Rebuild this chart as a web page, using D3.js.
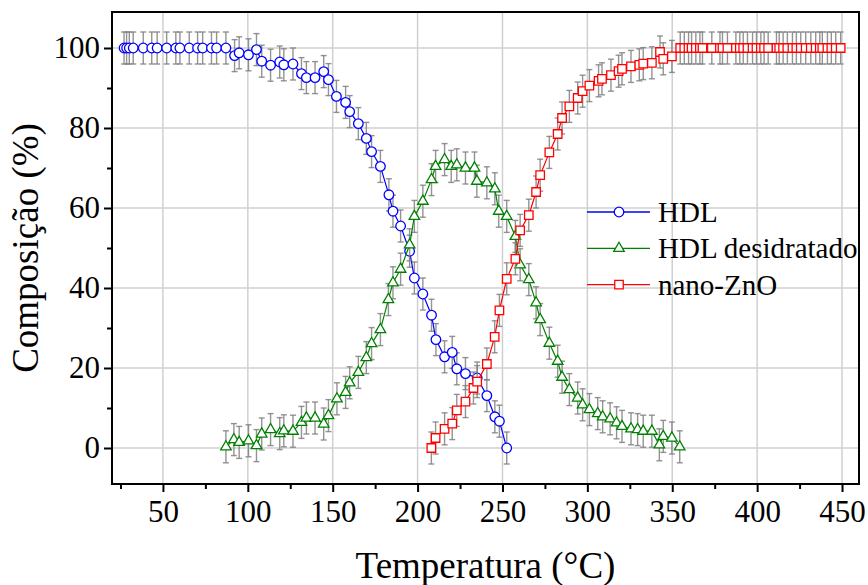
<!DOCTYPE html>
<html>
<head>
<meta charset="utf-8">
<script src="https://cdn.jsdelivr.net/npm/d3@7"></script>
<style>
  body { margin: 0; background: #fff; }
</style>
</head>
<body>
<div id="chart"></div>
<script>
// temperatures (°C) and compositions (%)
const tHDL = [27.1, 28.6, 30.2, 32.5, 38.4, 43.4, 46.6, 52.2, 57.6, 60.0, 65.5, 70.4, 73.4, 78.6, 81.6, 87.1,
  92.2, 94.9, 100.4, 105.1, 108.2, 113.4, 118.8, 121.2, 126.6, 131.6, 134.5, 139.6, 144.7, 147.5, 152.2, 157.6,
  160.0, 165.1, 169.8, 172.9, 178.1, 183.1, 185.5, 190.0, 195.3, 198.1, 203.1, 208.2, 210.8, 215.9, 220.4, 223.1,
  228.2, 235.1, 240.8, 245.5, 248.2, 252.5]
const vHDL = [100, 100, 100, 100, 100, 100, 100, 100, 100, 100, 100, 100, 100, 100, 100, 100,
  98.1, 98.8, 98.3, 99.6, 96.7, 95.7, 96.5, 95.8, 96.0, 93.6, 92.6, 92.6, 94.1, 92.1, 87.9, 86.4,
  84.1, 81.1, 77.4, 74.1, 70.4, 63.3, 59.2, 55.5, 49.2, 42.5, 38.5, 33.2, 27.1, 22.8, 23.9, 19.8,
  18.6, 17.5, 13.1, 7.8, 6.7, 0]

const tDes = [87.1, 91.8, 94.9, 100.4, 105.1, 108.2, 113.4, 118.8, 121.2, 126.6, 131.6, 134.5, 139.6, 144.7, 147.5,
  152.5, 157.6, 160.0, 165.1, 169.8, 172.9, 178.1, 182.8, 185.5, 190.0, 195.3, 198.1, 203.1, 208.2, 210.6,
  215.9, 219.8, 223.1, 228.2, 233.5, 234.9, 240.8, 245.5, 247.8, 252.5, 257.6, 260.4, 265.5, 269.8, 272.2,
  277.6, 282.5, 285.1, 289.4, 294.3, 297.2, 301.2, 306.1, 309.0, 313.4, 317.2, 320.4, 325.7, 329.6, 332.9,
  338.0, 342.4, 344.7, 349.8, 354.4]
const vDes = [0.3, 2.1, 1.4, 1.8, 0.6, 3.5, 4.6, 3.6, 4.3, 4.2, 6.4, 7.5, 7.5, 6.0, 8.1,
  12.3, 13.9, 16.3, 18.9, 22.6, 26.1, 29.6, 37.1, 41.3, 44.7, 50.8, 57.9, 61.7, 67.1, 70.4,
  72.1, 70.4, 70.8, 70.0, 70.0, 66.7, 66.3, 64.8, 59.2, 57.9, 52.9, 45.8, 42.1, 36.3, 32.1,
  26.2, 21.7, 17.7, 14.6, 12.5, 10.8, 9.6, 8.6, 7.8, 7.3, 6.3, 5.4, 4.8, 4.6, 4.2,
  4.2, 0.8, 2.9, 2.5, 0.3]

const tZnO = [208.1, 210.6, 215.9, 220.4, 223.1, 228.2, 232.9, 235.1, 240.8, 245.4, 248.2, 252.5, 257.6, 260.4,
  265.5, 269.8, 272.2, 277.6, 282.5, 285.1, 289.4, 294.3, 297.2, 301.2, 306.6, 308.6, 313.9, 318.4, 320.4,
  325.7, 330.6, 332.9, 338.0, 342.8, 344.7, 349.8, 354.7, 357.1, 359.6, 361.4, 363.9, 366.3, 367.8, 373.3,
  378.1, 379.6, 382.5, 387.5, 389.8, 391.8, 394.3, 397.3, 399.6, 402.2, 404.1, 406.5, 411.4, 413.0, 415.3,
  417.8, 420.8, 423.1, 425.7, 428.6, 431.6, 434.5, 436.9, 438.4, 441.4, 443.7, 446.3, 449.2]
const vZnO = [0, 2.5, 4.8, 6.1, 9.4, 11.6, 15.0, 16.6, 21.0, 27.8, 34.4, 42.3, 47.3, 54.4,
  58.2, 64.0, 68.2, 73.9, 78.5, 82.5, 85.4, 87.5, 89.2, 90.6, 91.8, 92.3, 93.2, 94.2, 94.8,
  95.4, 95.8, 96.1, 96.3, 99.0, 97.3, 97.9, 100, 100, 100, 100, 100, 100, 100, 100,
  100, 100, 100, 100, 100, 100, 100, 100, 100, 100, 100, 100, 100, 100, 100,
  100, 100, 100, 100, 100, 100, 100, 100, 100, 100, 100, 100, 100]

const errBar = 4 // ± %

const xMajor = [50, 100, 150, 200, 250, 300, 350, 400, 450]
const xMinor = [25, 75, 125, 175, 225, 275, 325, 375, 425]
const yMajor = [0, 20, 40, 60, 80, 100]
const yMinor = [10, 30, 50, 70, 90]

const series = [
  { name: 'HDL', t: tHDL, v: vHDL, color: '#0000ff', symbol: 'circle' },
  { name: 'HDL desidratado', t: tDes, v: vDes, color: '#008000', symbol: 'triangle' },
  { name: 'nano-ZnO', t: tZnO, v: vZnO, color: '#ff0000', symbol: 'square' }
]

const serif = '"Liberation Serif", "Times New Roman", Times, serif'

const width = 868
const height = 585
const margin = { top: 12, right: 9, bottom: 101, left: 112 }

const svg = d3.select('#chart')
  .append('svg')
  .attr('width', width)
  .attr('height', height)

const x = d3.scaleLinear()
  .domain([20, 460])
  .range([margin.left, width - margin.right])

const y = d3.scaleLinear()
  .domain([-9, 109])
  .range([height - margin.bottom, margin.top])

// grid
svg.append('g')
  .selectAll('line')
  .data(xMajor)
  .join('line')
    .attr('x1', d => x(d)).attr('x2', d => x(d))
    .attr('y1', y.range()[0]).attr('y2', y.range()[1])
    .attr('stroke', '#d0d0d0').attr('stroke-width', 1.5)

svg.append('g')
  .selectAll('line')
  .data(yMajor)
  .join('line')
    .attr('y1', d => y(d)).attr('y2', d => y(d))
    .attr('x1', x.range()[0]).attr('x2', x.range()[1])
    .attr('stroke', '#d0d0d0').attr('stroke-width', 1.5)

function symbolPath(s) {
  if (s === 'circle') return d3.symbol(d3.symbolCircle, 72)()
  if (s === 'triangle') return d3.symbol(d3.symbolTriangle, 48)()
  return d3.symbol(d3.symbolSquare, 72)()
}

const line = d3.line().x(d => x(d[0])).y(d => y(d[1]))

series.forEach(s => {
  const pts = s.t.map((t, i) => [t, s.v[i]])
  const g = svg.append('g')

  // error bars
  const eb = g.append('g')
    .attr('stroke', '#808080')
    .attr('stroke-width', 1.4)
    .attr('stroke-opacity', 0.85)
  eb.selectAll('line.v')
    .data(pts)
    .join('line')
      .attr('class', 'v')
      .attr('x1', d => x(d[0])).attr('x2', d => x(d[0]))
      .attr('y1', d => y(d[1] - errBar)).attr('y2', d => y(d[1] + errBar))
  eb.selectAll('line.top')
    .data(pts)
    .join('line')
      .attr('class', 'top')
      .attr('x1', d => x(d[0]) - 3).attr('x2', d => x(d[0]) + 3)
      .attr('y1', d => y(d[1] + errBar)).attr('y2', d => y(d[1] + errBar))
  eb.selectAll('line.bot')
    .data(pts)
    .join('line')
      .attr('class', 'bot')
      .attr('x1', d => x(d[0]) - 3).attr('x2', d => x(d[0]) + 3)
      .attr('y1', d => y(d[1] - errBar)).attr('y2', d => y(d[1] - errBar))

  g.append('path')
    .datum(pts)
    .attr('d', line)
    .attr('fill', 'none')
    .attr('stroke', s.color)
    .attr('stroke-width', 1.2)

  g.append('g')
    .selectAll('path')
    .data(pts)
    .join('path')
      .attr('d', symbolPath(s.symbol))
      .attr('transform', d => `translate(${x(d[0])},${y(d[1])})`)
      .attr('fill', '#fff')
      .attr('stroke', s.color)
      .attr('stroke-width', 1.3)
})

// frame
svg.append('rect')
  .attr('x', margin.left).attr('y', margin.top)
  .attr('width', x.range()[1] - margin.left)
  .attr('height', y.range()[0] - margin.top)
  .attr('fill', 'none').attr('stroke', '#000').attr('stroke-width', 2)

// axes
function styleAxis(g) {
  g.select('.domain').remove()
  g.attr('font-family', null).attr('font-size', null)
  g.selectAll('line').attr('stroke', '#000').attr('stroke-width', 2)
  g.selectAll('text')
    .style('font-family', serif)
    .style('font-size', '31px')
    .attr('fill', '#000')
}

svg.append('g')
  .attr('transform', `translate(0,${y.range()[0]})`)
  .call(d3.axisBottom(x).tickValues(xMinor).tickSize(5).tickFormat(''))
  .call(styleAxis)

svg.append('g')
  .attr('transform', `translate(0,${y.range()[0]})`)
  .call(d3.axisBottom(x).tickValues(xMajor).tickSize(8).tickPadding(8))
  .call(styleAxis)

svg.append('g')
  .attr('transform', `translate(${margin.left},0)`)
  .call(d3.axisLeft(y).tickValues(yMinor).tickSize(5).tickFormat(''))
  .call(styleAxis)

svg.append('g')
  .attr('transform', `translate(${margin.left},0)`)
  .call(d3.axisLeft(y).tickValues(yMajor).tickSize(8).tickPadding(4))
  .call(styleAxis)

// axis titles
svg.append('text')
  .attr('x', (x.range()[0] + x.range()[1]) / 2)
  .attr('y', 578)
  .attr('text-anchor', 'middle')
  .style('font-family', serif)
  .style('font-size', '37px')
  .text('Temperatura (°C)')

svg.append('text')
  .attr('transform', `translate(38,${(y.range()[0] + y.range()[1]) / 2}) rotate(-90)`)
  .attr('text-anchor', 'middle')
  .style('font-family', serif)
  .style('font-size', '37px')
  .text('Composição (%)')

// legend
const legend = svg.append('g')
series.forEach((s, i) => {
  const ly = 212 + i * 36.3
  legend.append('line')
    .attr('x1', 587).attr('x2', 650)
    .attr('y1', ly).attr('y2', ly)
    .attr('stroke', s.color).attr('stroke-width', 1.3)
  legend.append('path')
    .attr('d', symbolPath(s.symbol))
    .attr('transform', `translate(619,${ly})`)
    .attr('fill', '#fff').attr('stroke', s.color).attr('stroke-width', 1.3)
  legend.append('text')
    .attr('x', 658).attr('y', ly + 10)
    .style('font-family', serif)
    .style('font-size', '29px')
    .text(s.name)
})
</script>
</body>
</html>
